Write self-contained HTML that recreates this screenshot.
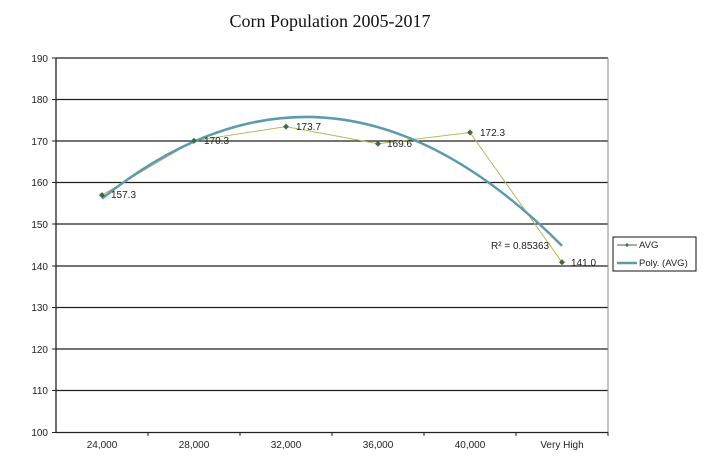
<!DOCTYPE html>
<html><head><style>body{margin:0;background:#fff}svg{display:block}</style></head><body>
<svg width="703" height="463" xmlns="http://www.w3.org/2000/svg">
<rect width="703" height="463" fill="#fff"/>
<text x="330" y="27" font-family="Liberation Serif, serif" font-size="18" text-anchor="middle" fill="#111">Corn Population 2005-2017</text>
<g stroke="#222" stroke-width="1.3">
<line x1="56" y1="58" x2="608" y2="58"/><line x1="56" y1="99.5" x2="608" y2="99.5"/>
<line x1="56" y1="141" x2="608" y2="141"/><line x1="56" y1="182.5" x2="608" y2="182.5"/>
<line x1="56" y1="224" x2="608" y2="224"/><line x1="56" y1="266" x2="608" y2="266"/>
<line x1="56" y1="307.5" x2="608" y2="307.5"/><line x1="56" y1="349" x2="608" y2="349"/>
<line x1="56" y1="390.5" x2="608" y2="390.5"/><line x1="56" y1="432.5" x2="608" y2="432.5"/>
<line x1="56" y1="58" x2="56" y2="432.5"/>
</g>
<line x1="608" y1="58" x2="608" y2="432.5" stroke="#888" stroke-width="1"/>
<g stroke="#222" stroke-width="1">
<line x1="52" y1="58" x2="56" y2="58"/><line x1="52" y1="99.5" x2="56" y2="99.5"/><line x1="52" y1="141" x2="56" y2="141"/><line x1="52" y1="182.5" x2="56" y2="182.5"/><line x1="52" y1="224" x2="56" y2="224"/><line x1="52" y1="266" x2="56" y2="266"/><line x1="52" y1="307.5" x2="56" y2="307.5"/><line x1="52" y1="349" x2="56" y2="349"/><line x1="52" y1="390.5" x2="56" y2="390.5"/><line x1="52" y1="432.5" x2="56" y2="432.5"/>
<line x1="148" y1="432" x2="148" y2="436"/><line x1="240" y1="432" x2="240" y2="436"/><line x1="332" y1="432" x2="332" y2="436"/><line x1="424" y1="432" x2="424" y2="436"/><line x1="516" y1="432" x2="516" y2="436"/><line x1="608" y1="432" x2="608" y2="436"/>
</g>
<g font-family="Liberation Sans, sans-serif" font-size="10" fill="#222" text-anchor="end">
<text x="48" y="62">190</text><text x="48" y="103">180</text><text x="48" y="145">170</text><text x="48" y="186">160</text><text x="48" y="228">150</text><text x="48" y="270">140</text><text x="48" y="311">130</text><text x="48" y="353">120</text><text x="48" y="394">110</text><text x="48" y="436">100</text>
</g>
<g font-family="Liberation Sans, sans-serif" font-size="10" fill="#222" text-anchor="middle">
<text x="102" y="448">24,000</text><text x="194" y="448">28,000</text><text x="286" y="448">32,000</text><text x="378" y="448">36,000</text><text x="470" y="448">40,000</text><text x="562" y="448">Very High</text>
</g>
<polyline points="102,195.1 194,140.8 286,126.6 378,143.7 470,132.5 562,262.3" fill="none" stroke="#b5b85a" stroke-width="1"/>
<path d="M102,198.6 Q332,14.4 562,245.8" fill="none" stroke="#5c9ab0" stroke-width="2.5"/>
<g fill="#3d6b3d">
<path d="M102,192.1 l3,3 l-3,3 l-3,-3z"/><path d="M194,137.8 l3,3 l-3,3 l-3,-3z"/><path d="M286,123.6 l3,3 l-3,3 l-3,-3z"/><path d="M378,140.7 l3,3 l-3,3 l-3,-3z"/><path d="M470,129.5 l3,3 l-3,3 l-3,-3z"/><path d="M562,259.3 l3,3 l-3,3 l-3,-3z"/>
</g>
<g font-family="Liberation Sans, sans-serif" font-size="10" fill="#222">
<text x="111" y="198">157.3</text><text x="204" y="144">170.3</text><text x="296" y="130">173.7</text><text x="387" y="147">169.6</text><text x="480" y="136">172.3</text><text x="571" y="266">141.0</text>
<text x="491" y="249">R² = 0.85363</text>
</g>
<rect x="613" y="237" width="83" height="34" fill="#fff" stroke="#111" stroke-width="1"/>
<line x1="617" y1="245" x2="637" y2="245" stroke="#3d6b3d" stroke-width="1"/>
<path d="M627,243 l2,2 l-2,2 l-2,-2z" fill="#3d6b3d"/>
<line x1="617" y1="263" x2="637" y2="263" stroke="#5c9ab0" stroke-width="2.5"/>
<g font-family="Liberation Sans, sans-serif" font-size="9.5" fill="#222">
<text x="639" y="248">AVG</text><text x="639" y="266">Poly. (AVG)</text>
</g>
</svg>
</body></html>
